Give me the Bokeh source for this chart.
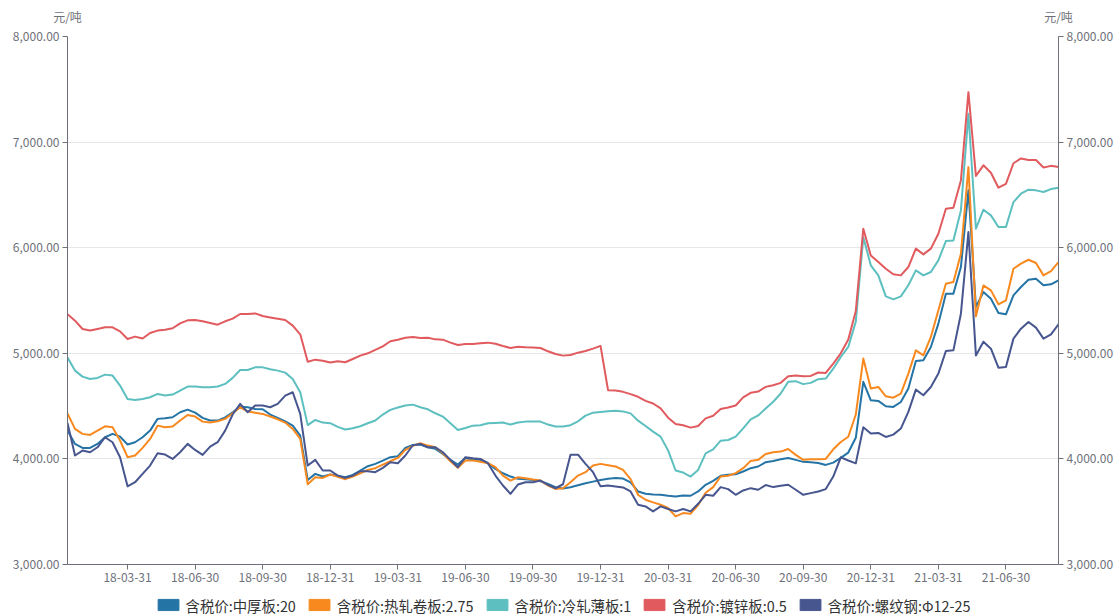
import calendar
from bokeh.plotting import figure
from bokeh.layouts import column
from bokeh.models import (ColumnDataSource, Range1d, LinearAxis, FixedTicker,
                          NumeralTickFormatter, Legend, LegendItem)
from bokeh.embed import file_html
from bokeh.resources import INLINE

# ---------------- data ----------------
# ten-day (旬) observation dates, 18-01-10 .. 21-09-10
dates = []
for yy in range(2018, 2022):
    for mm in range(1, 13):
        for dd in (10, 20, calendar.monthrange(yy, mm)[1]):
            if (yy, mm, dd) <= (2021, 9, 10):
                dates.append(f"{yy % 100:02d}-{mm:02d}-{dd:02d}")

tick_labels = ["18-03-31", "18-06-30", "18-09-30", "18-12-31", "19-03-31", "19-06-30",
               "19-09-30", "19-12-31", "20-03-31", "20-06-30", "20-09-30", "20-12-31",
               "21-03-31", "21-06-30"]

series_names = ["含税价:中厚板:20", "含税价:热轧卷板:2.75", "含税价:冷轧薄板:1",
                "含税价:镀锌板:0.5", "含税价:螺纹钢:Φ12-25"]

plate = [4270, 4142, 4104, 4104, 4142, 4205, 4237, 4211, 4136, 4158, 4205, 4268, 4379, 4385, 4394,
         4442, 4467, 4438, 4388, 4363, 4363, 4394, 4442, 4495, 4489, 4473, 4470, 4420, 4388, 4356,
         4315, 4221, 3800, 3858, 3833, 3852, 3840, 3826, 3849, 3890, 3931, 3953, 3984, 4016, 4025,
         4104, 4132, 4136, 4110, 4095, 4047, 3991, 3946, 4009, 3991, 3991, 3959, 3905, 3864, 3833,
         3811, 3808, 3801, 3789, 3763, 3732, 3719, 3732, 3751, 3770, 3785, 3801, 3811, 3818, 3814,
         3777, 3692, 3670, 3664, 3660, 3651, 3645, 3654, 3651, 3692, 3755, 3792, 3840, 3849, 3855,
         3881, 3912, 3928, 3969, 3981, 3997, 4009, 3991, 3972, 3969, 3962, 3943, 3965, 4010, 4060,
         4200, 4730, 4555, 4549, 4498, 4492, 4539, 4666, 4927, 4934, 5060, 5281, 5565, 5565, 5817,
         6543, 5440, 5580, 5517, 5382, 5369, 5549, 5628, 5697, 5707, 5644, 5653, 5691]

hot_coil = [4430, 4284, 4237, 4227, 4268, 4309, 4300, 4174, 4016, 4032, 4104, 4189, 4315, 4300, 4306,
            4363, 4416, 4401, 4353, 4344, 4356, 4379, 4432, 4489, 4451, 4438, 4426, 4401, 4375, 4344,
            4284, 4189, 3760, 3826, 3820, 3852, 3830, 3808, 3833, 3864, 3896, 3912, 3946, 3978, 4009,
            4085, 4123, 4148, 4126, 4110, 4054, 3978, 3915, 3984, 3984, 3972, 3959, 3921, 3842, 3795,
            3826, 3817, 3804, 3795, 3748, 3716, 3722, 3779, 3842, 3874, 3937, 3953, 3940, 3928, 3896,
            3808, 3660, 3613, 3588, 3566, 3535, 3456, 3487, 3481, 3563, 3680, 3733, 3833, 3840, 3865,
            3912, 3981, 3991, 4047, 4063, 4069, 4094, 4038, 3991, 3997, 3997, 4000, 4091, 4160, 4210,
            4420, 4950, 4666, 4681, 4593, 4580, 4618, 4808, 5028, 4981, 5155, 5407, 5659, 5675, 5943,
            6763, 5350, 5643, 5596, 5464, 5502, 5801, 5849, 5886, 5855, 5738, 5779, 5864]

cold_sheet = [4960, 4836, 4779, 4757, 4767, 4798, 4789, 4694, 4568, 4558, 4568, 4584, 4615, 4600, 4609,
              4647, 4685, 4685, 4678, 4678, 4685, 4710, 4767, 4842, 4842, 4867, 4867, 4849, 4836, 4817,
              4757, 4631, 4320, 4369, 4344, 4338, 4303, 4278, 4290, 4309, 4338, 4363, 4420, 4464, 4486,
              4505, 4514, 4489, 4470, 4432, 4401, 4338, 4274, 4293, 4315, 4319, 4338, 4341, 4344, 4325,
              4344, 4353, 4353, 4353, 4325, 4306, 4306, 4319, 4356, 4410, 4438, 4445, 4451, 4456, 4450,
              4431, 4362, 4311, 4258, 4211, 4080, 3890, 3871, 3833, 3896, 4053, 4091, 4173, 4179, 4211,
              4289, 4374, 4412, 4478, 4541, 4619, 4730, 4736, 4708, 4720, 4755, 4761, 4855, 4965, 5060,
              5300, 6100, 5833, 5738, 5539, 5511, 5539, 5644, 5785, 5738, 5770, 5880, 6063, 6069, 6353,
              7268, 6180, 6360, 6306, 6196, 6196, 6432, 6511, 6549, 6543, 6527, 6555, 6568]

galvanized = [5370, 5309, 5230, 5215, 5230, 5246, 5246, 5208, 5136, 5158, 5140, 5192, 5215, 5224, 5237,
              5284, 5312, 5315, 5303, 5287, 5271, 5303, 5328, 5372, 5372, 5378, 5353, 5340, 5328, 5315,
              5262, 5180, 4920, 4940, 4930, 4912, 4924, 4915, 4946, 4978, 5000, 5032, 5066, 5114, 5129,
              5148, 5155, 5145, 5148, 5132, 5129, 5101, 5079, 5088, 5088, 5095, 5101, 5091, 5069, 5050,
              5063, 5057, 5054, 5050, 5019, 4994, 4978, 4984, 5006, 5022, 5044, 5070, 4651, 4648, 4635,
              4613, 4588, 4550, 4525, 4478, 4390, 4330, 4318, 4296, 4311, 4384, 4409, 4472, 4487, 4506,
              4582, 4626, 4638, 4682, 4698, 4720, 4783, 4789, 4783, 4786, 4818, 4814, 4903, 5000, 5130,
              5400, 6180, 5927, 5864, 5801, 5748, 5738, 5817, 5991, 5937, 5991, 6132, 6369, 6379, 6637,
              7473, 6680, 6780, 6710, 6568, 6605, 6800, 6845, 6830, 6830, 6760, 6775, 6765]

rebar = [4340, 4032, 4079, 4063, 4110, 4205, 4158, 4016, 3740, 3779, 3858, 3937, 4054, 4041, 4000,
         4063, 4142, 4085, 4038, 4117, 4158, 4268, 4420, 4521, 4442, 4505, 4505, 4489, 4521, 4599,
         4631, 4426, 3937, 3991, 3890, 3890, 3842, 3820, 3842, 3883, 3883, 3874, 3915, 3968, 3959,
         4032, 4129, 4142, 4110, 4110, 4063, 3991, 3921, 4016, 4006, 4000, 3959, 3842, 3748, 3669,
         3757, 3779, 3779, 3795, 3754, 3722, 3760, 4040, 4040, 3953, 3874, 3740, 3748, 3739, 3730,
         3692, 3566, 3550, 3503, 3550, 3525, 3503, 3525, 3503, 3575, 3660, 3651, 3733, 3714, 3660,
         3701, 3723, 3708, 3752, 3733, 3745, 3755, 3708, 3660, 3676, 3692, 3714, 3833, 4015, 3985,
         3958, 4300, 4240, 4246, 4208, 4230, 4287, 4445, 4656, 4603, 4681, 4808, 5022, 5028, 5375,
         6148, 4980, 5110, 5044, 4864, 4871, 5139, 5233, 5297, 5243, 5139, 5180, 5274]

colors = ["#2474a6", "#f7891f", "#5dbfbf", "#e05a5e", "#47568e"]
y_ticks = [3000, 4000, 5000, 6000, 7000, 8000]
unit_label = "元/吨"

# ---------------- figure ----------------
FONT = "Noto Sans CJK SC"
AX_COLOR = "#6e7079"
N = len(dates)

idx = list(range(N))
cols = ["plate", "hot_coil", "cold_sheet", "galvanized", "rebar"]
src = ColumnDataSource(dict(x=idx, date=dates, plate=plate, hot_coil=hot_coil,
                            cold_sheet=cold_sheet, galvanized=galvanized, rebar=rebar))

xr = Range1d(0, N - 1)
yr = Range1d(min(y_ticks), max(y_ticks))

p = figure(width=1116, height=594, output_backend="svg", toolbar_location=None,
           x_range=xr, y_range=yr,
           min_border_left=67, min_border_right=58, min_border_top=36, min_border_bottom=30)
p.outline_line_color = None
p.background_fill_color = "white"
p.border_fill_color = "white"

p.xgrid.grid_line_color = None
p.ygrid.grid_line_color = "#e6e6e6"
p.ygrid.grid_line_width = 1
p.ygrid.ticker = FixedTicker(ticks=y_ticks)

tick_pos = [dates.index(t) for t in tick_labels]


def style_axis(ax):
    ax.axis_line_color = AX_COLOR
    ax.axis_line_width = 1
    ax.major_tick_line_color = AX_COLOR
    ax.major_tick_out = 5
    ax.major_tick_in = 0
    ax.minor_tick_line_color = None
    ax.major_label_text_color = AX_COLOR
    ax.major_label_text_font = FONT
    ax.major_label_text_font_size = "12px"


xa = p.xaxis[0]
xa.ticker = FixedTicker(ticks=tick_pos)
xa.major_label_overrides = {pos: lab for pos, lab in zip(tick_pos, tick_labels)}
style_axis(xa)
xa.major_label_standoff = 3

ya = p.yaxis[0]
ya.ticker = FixedTicker(ticks=y_ticks)
ya.formatter = NumeralTickFormatter(format="0,0.00")
style_axis(ya)
ya.major_label_standoff = 3

ra = LinearAxis(ticker=FixedTicker(ticks=y_ticks), formatter=NumeralTickFormatter(format="0,0.00"))
style_axis(ra)
ra.major_label_standoff = 3
p.add_layout(ra, "right")

# unit texts above both value axes
ua = LinearAxis(ticker=FixedTicker(ticks=[0, N - 1]),
                major_label_overrides={0: unit_label, N - 1: unit_label})
style_axis(ua)
ua.axis_line_color = None
ua.major_tick_line_color = None
ua.major_tick_out = 0
ua.major_label_standoff = 12
p.add_layout(ua, "above")

for c, col in zip(cols, colors):
    p.line("x", c, source=src, line_color=col, line_width=2, line_join="round")

# ---------------- legend strip ----------------
pl = figure(width=1116, height=21, output_backend="svg", toolbar_location=None,
            x_range=xr, y_range=yr, x_axis_location=None, y_axis_location=None,
            min_border_left=7, min_border_right=0, min_border_top=0, min_border_bottom=0)
pl.outline_line_color = None
pl.grid.visible = False
pl.background_fill_color = "white"
pl.border_fill_color = "white"

items = []
for c, col, name in zip(cols, colors, series_names):
    sw = pl.rect("x", c, width=0, height=0, source=src, fill_color=col, line_color=col,
                 visible=False)
    items.append(LegendItem(label=name, renderers=[sw]))

legend = Legend(items=items, orientation="horizontal", location="center",
                glyph_width=26, glyph_height=14, label_height=14, label_standoff=5,
                spacing=10, padding=0, margin=0,
                label_text_font=FONT, label_text_font_size="14.4px", label_text_color="#333333",
                border_line_color=None, background_fill_alpha=0)
pl.add_layout(legend, "center")

layout = column(p, pl, spacing=0)
open("out.html", "w").write(file_html(layout, INLINE))
